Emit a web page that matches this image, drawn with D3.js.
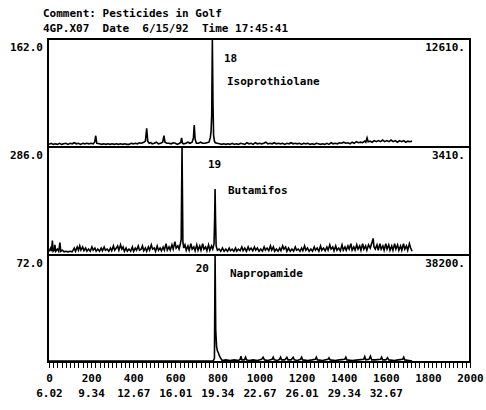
<!DOCTYPE html>
<html lang="en">
<head>
<meta charset="utf-8">
<title>Pesticides in Golf - ion chromatograms</title>
<style>
  body { margin: 0; background: #fff; }
  .lbl { font-family: "DejaVu Sans Mono", monospace; font-weight: bold; font-size: 11px; fill: #000; }
  .frame { fill: none; stroke: #000; stroke-width: 2; }
  .trace { fill: none; stroke: #000; stroke-width: 1.6; stroke-linejoin: miter; }
</style>
</head>
<body>
<script src="https://d3js.org/d3.v7.min.js"></script>
<script>
// header text
var comment = "Comment: Pesticides in Golf";
var fileLine = "4GP.X07\u00a0\u00a0Date\u00a0\u00a06/15/92\u00a0\u00a0Time 17:45:41";

// one entry per panel
var masses = ["162.0", "286.0", "72.0"];
var maxima = ["12610.", "3410.", "38200."];
var peakNums = ["18", "19", "20"];
var compounds = ["Isoprothiolane", "Butamifos", "Napropamide"];

// x axis: scan numbers and retention times (min)
var scanTicks = [0, 200, 400, 600, 800, 1000, 1200, 1400, 1600, 1800, 2000];
var rtTicks = [0, 200, 400, 600, 800, 1000, 1200, 1400, 1600];
var rtLabels = ["6.02", "9.34", "12.67", "16.01", "19.34", "22.67", "26.01", "29.34", "32.67"];

// traces: [scan, % of panel full scale]
var ion162 = [
  [0,2],[10,3],[20,2],[30,2.5],[40,2],[50,3],[60,2],[70,2.5],[80,3],[90,2],[100,3],[110,2.5],[120,3.5],[130,2.5],
  [140,3],[150,2],[160,3],[170,2.5],[180,3],[190,2.5],[200,3],[210,2.5],[217,4],[222,10],[227,3],[240,2.5],[250,2],
  [260,2.5],[270,2],[280,2.5],[290,2],[300,2.5],[310,2],[320,2.5],[330,2],[340,2.5],[350,2],[360,2.5],[370,2],[380,2],
  [390,3],[400,2.5],[410,3],[420,2.5],[430,3.5],[440,3],[450,4],[458,5],[464,17],[469,5],[476,3],[484,3.5],[490,2.5],
  [500,3],[510,4],[520,2.5],[530,3],[540,4],[546,10],[551,4],[560,3],[570,3],[580,2.5],[590,3.5],[600,3],[610,2],
  [620,3],[626,4],[630,8],[634,3],[640,2.5],[650,3],[660,4],[670,3],[680,4],[686,8],[690,20],[694,7],[700,3],[710,3],
  [720,4],[730,3],[740,3],[750,3.5],[760,4],[766,8],[770,14],[773,30],[776,100],[779,40],[782,10],[786,5],[790,3.5],
  [800,3],[810,2.5],[820,2],[830,2.5],[840,2],[850,2.5],[860,2],[870,3],[880,2],[890,2.5],[900,2],[910,3],[920,2.5],
  [930,2],[940,3.5],[950,2.5],[960,3],[970,2],[980,3.5],[990,2.5],[1000,3],[1010,2.5],[1020,3],[1030,4],[1040,2.5],
  [1050,3],[1060,2.5],[1070,3.5],[1080,2.5],[1090,3],[1100,2.5],[1110,3],[1120,2],[1130,3],[1140,2.5],[1150,3.5],
  [1160,2.5],[1170,3],[1180,2.5],[1190,3],[1200,2],[1210,3],[1220,2.5],[1230,3],[1240,2],[1250,2.5],[1260,2],[1270,3],
  [1280,2.5],[1290,2],[1300,2.5],[1310,2],[1320,3],[1330,2],[1340,3.5],[1350,2.5],[1360,3],[1370,2.5],[1380,3.5],
  [1390,3],[1400,4],[1410,3],[1420,3.5],[1430,2.5],[1440,4],[1450,3],[1460,4.5],[1470,3.5],[1480,4],[1490,3.5],
  [1500,5],[1505,4],[1511,8],[1516,4.5],[1525,5],[1535,4],[1545,5.5],[1555,4.5],[1565,5.5],[1575,4.5],[1585,6],
  [1595,4.5],[1605,5.5],[1615,4.5],[1625,6],[1635,4.5],[1645,5.5],[1655,4],[1665,5.5],[1675,4.5],[1685,5.5],
  [1695,4],[1705,5],[1715,4.5],[1725,5]
];
var ion286 = [
  [0,3],[8,6],[12,3],[16,13],[20,3],[26,4],[28,9],[32,3],[40,5],[46,3],[52,11],[56,3],[64,4],[72,2.5],[80,3],[90,2.5],
  [100,3],[110,2.5],[120,6],[126,3],[134,7],[140,4],[146,8],[152,4],[160,7],[166,3.5],[174,6],[180,3],[188,5],[196,3],
  [204,7],[210,4],[218,6],[224,3],[232,5],[240,3],[248,6],[254,3.5],[262,7],[268,4],[276,5],[284,3],[292,6],[298,3.5],
  [306,8],[312,4],[320,6],[326,8],[332,4],[340,9],[346,5],[352,7],[358,3],[366,6],[372,3],[380,5],[388,3],[396,7],
  [402,3],[410,6],[416,4],[424,8],[430,4],[438,5],[444,8],[450,3.5],[458,6],[464,3],[472,7],[478,4],[486,9],[492,5],
  [500,6],[506,3],[514,8],[520,4],[528,6],[534,3.5],[542,7],[548,4],[556,10],[562,4],[570,7],[576,4],[584,9],[590,5],
  [598,12],[604,6],[612,8],[618,5],[624,10],[628,14],[632,100],[636,12],[640,6],[646,9],[652,4],[660,8],[666,4],
  [674,10],[680,5],[688,7],[694,3.5],[702,9],[708,4],[716,8],[722,4],[730,10],[736,5],[744,7],[750,3.5],[758,9],
  [764,4],[772,8],[778,5],[784,10],[787,34],[789,61],[791,34],[794,8],[800,4],[808,5],[816,3],[824,6],[832,3],[840,5],
  [848,3],[856,6],[862,3.5],[870,5],[878,3],[886,6],[892,3],[900,5],[908,3.5],[916,7],[922,3.5],[930,6],[938,3],
  [946,7],[952,4],[960,6],[968,3.5],[976,7],[982,4],[990,6],[998,3],[1006,5],[1014,3],[1022,7],[1028,4],[1036,6],
  [1044,3.5],[1052,8],[1058,4],[1066,7],[1072,3],[1080,5],[1088,3],[1096,6],[1102,3.5],[1110,8],[1116,5],[1124,7],
  [1130,3],[1138,6],[1146,3],[1154,5],[1162,3],[1170,7],[1176,4],[1184,5],[1192,3],[1200,6],[1206,3.5],[1214,8],
  [1220,4],[1228,6],[1236,3],[1244,5],[1252,3],[1260,7],[1266,4],[1274,6],[1282,3],[1290,8],[1296,4],[1304,6],
  [1312,3.5],[1320,7],[1326,4],[1334,9],[1340,5],[1348,7],[1354,3.5],[1362,8],[1368,4],[1376,6],[1384,3.5],[1392,9],
  [1398,4],[1406,7],[1412,4],[1420,8],[1426,5],[1434,10],[1440,4],[1448,7],[1454,4],[1462,9],[1468,5],[1476,8],
  [1482,4],[1490,10],[1496,5],[1504,8],[1510,4],[1518,9],[1526,6],[1534,11],[1540,15],[1544,7],[1550,5],[1558,9],
  [1564,4],[1572,10],[1578,5],[1586,8],[1592,4],[1600,10],[1606,5],[1614,9],[1620,4],[1628,8],[1634,4],[1642,10],
  [1648,5],[1656,9],[1662,4],[1670,8],[1676,4],[1684,10],[1690,5],[1698,8],[1704,4],[1712,10],[1718,6],[1725,3]
];
var ion72 = [
  [0,0.5],[780,0.5],[786,3],[789,100],[792,30],[796,14],[800,10],[805,8],[810,5],[816,3],[822,1],[840,1.5],[860,1],
  [880,1.5],[900,1],[908,2],[912,5],[916,1.5],[928,1.5],[934,4],[938,1.5],[950,1],[970,1.5],[990,1],[1010,2],[1017,4],
  [1024,1.5],[1040,1],[1060,2],[1065,4],[1070,1.5],[1085,1],[1095,2],[1100,4],[1105,1.5],[1120,1.5],[1130,4],
  [1135,1.5],[1150,1.5],[1160,4],[1165,1.5],[1180,1],[1195,2],[1200,4],[1205,1.5],[1230,1],[1250,1.5],[1265,2],
  [1270,4],[1275,1.5],[1300,1],[1325,2],[1330,3.5],[1335,1.5],[1360,1],[1380,1.5],[1405,2],[1410,4],[1415,1.5],
  [1440,1],[1470,1.5],[1495,2],[1500,4.5],[1505,1.5],[1520,2],[1527,5],[1533,1.5],[1550,1.5],[1575,2],[1580,4],
  [1585,1.5],[1600,1.5],[1608,3.5],[1614,1.5],[1640,1],[1660,1.5],[1680,2],[1685,4],[1690,1.5],[1710,1],[1725,0.5]
];
var traces = [ion162, ion286, ion72];

var width = 486, height = 410;
var left = 48, right = 470;
var panelTops = [39, 147, 255], panelBottom = 362;

var svg = d3.select("body").append("svg")
    .attr("width", width)
    .attr("height", height);

var x = d3.scaleLinear().domain([0, 2000]).range([left + 1, right]);

svg.append("text").attr("class", "lbl").attr("x", 43).attr("y", 17).text(comment);
svg.append("text").attr("class", "lbl").attr("x", 43).attr("y", 32).text(fileLine);

// label placement inside each panel (offsets from panel top)
var numPos = [[224, 23, "start"], [208, 21, "start"], [209, 17, "end"]];
var namePos = [[227, 46], [228, 47], [230, 22]];

traces.forEach(function(data, i) {
    var top = panelTops[i];
    var bottom = i < 2 ? panelTops[i + 1] : panelBottom;
    var y = d3.scaleLinear().domain([0, 100]).range([bottom - 0.5, top]).clamp(true);

    var line = d3.line()
        .x(function(d) { return x(d[0]); })
        .y(function(d) { return y(d[1]); });

    svg.append("path")
        .datum(data)
        .attr("class", "trace")
        .attr("d", line);

    svg.append("rect")
        .attr("class", "frame")
        .attr("x", left).attr("y", top)
        .attr("width", right - left).attr("height", bottom - top);

    svg.append("text").attr("class", "lbl")
        .attr("x", 43).attr("y", top + 12)
        .attr("text-anchor", "end")
        .text(masses[i]);
    svg.append("text").attr("class", "lbl")
        .attr("x", 465).attr("y", top + 12)
        .attr("text-anchor", "end")
        .text(maxima[i]);
    svg.append("text").attr("class", "lbl")
        .attr("x", numPos[i][0]).attr("y", top + numPos[i][1])
        .attr("text-anchor", numPos[i][2])
        .text(peakNums[i]);
    svg.append("text").attr("class", "lbl")
        .attr("x", namePos[i][0]).attr("y", top + namePos[i][1])
        .text(compounds[i]);
});

// minor ticks hanging under the bottom frame, snapped to whole pixels
var xr = x.copy().interpolate(d3.interpolateRound);
svg.append("g")
    .attr("transform", "translate(0," + (panelBottom + 1) + ")")
    .call(d3.axisBottom(xr)
        .tickValues(d3.range(0, 2001, 20))
        .tickSize(5)
        .tickFormat(function() { return ""; }))
    .call(function(g) {
        g.select(".domain").remove();
        g.selectAll(".tick line")
            .attr("stroke", "#000")
            .attr("stroke-width", 1)
            .attr("shape-rendering", "crispEdges");
    });

// scan number labels
var scanAxis = svg.append("g")
    .attr("transform", "translate(0,382)")
    .call(d3.axisBottom(x).tickValues(scanTicks).tickSize(0).tickPadding(0).tickFormat(d3.format("d")));
scanAxis.select(".domain").remove();
scanAxis.selectAll("text").attr("class", "lbl").attr("dy", 0);

// retention time labels
var rtAxis = svg.append("g")
    .attr("transform", "translate(0,397)")
    .call(d3.axisBottom(x).tickValues(rtTicks).tickSize(0).tickPadding(0)
        .tickFormat(function(d, i) { return rtLabels[i]; }));
rtAxis.select(".domain").remove();
rtAxis.selectAll("text").attr("class", "lbl").attr("dy", 0);
</script>
</body>
</html>
